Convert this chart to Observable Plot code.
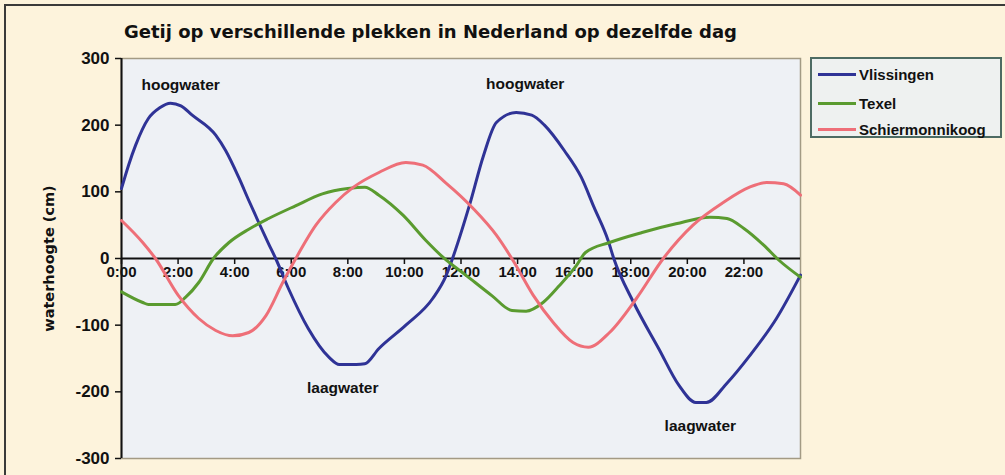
<!DOCTYPE html>
<html>
<head>
<meta charset="utf-8">
<script src="https://cdn.jsdelivr.net/npm/d3@7"></script>
<script src="https://cdn.jsdelivr.net/npm/@observablehq/plot@0.6"></script>
<style>
  html, body { margin: 0; padding: 0; background: #fdf3dc; }
  #wrap { position: relative; width: 1005px; height: 475px; background: #fdf3dc; overflow: hidden;
          font-family: "Liberation Sans", Arial, sans-serif; }
  #border { position: absolute; left: 4px; top: 4px; width: 1010px; height: 480px;
            border-top: 2px solid #3a3a3a; border-left: 2px solid #3a3a3a; }
  #title { position: absolute; left: 124px; top: 23px; font-family: "DejaVu Sans", sans-serif;
           font-size: 18px; font-weight: bold; color: #111; white-space: nowrap; line-height: 18px; }
  #chart { position: absolute; left: 0; top: 0; }
  #legend { position: absolute; left: 810px; top: 57px; width: 188px; height: 77px;
            border: 2px solid #4d6b63; background: #eef1f0; }
  .row { position: absolute; left: 6px; height: 20px; display: flex; align-items: center;
         font-size: 15px; font-weight: bold; color: #111; white-space: nowrap; }
  .sw { width: 38px; height: 3px; margin-right: 3px; }
</style>
</head>
<body>
<div id="wrap">
  <div id="border"></div>
  <div id="chart"></div>
  <div id="title"></div>
  <div id="legend"></div>
</div>
<script>
// ---- data ----
const titleText = "Getij op verschillende plekken in Nederland op dezelfde dag";
const yLabel = "waterhoogte (cm)";
const seriesNames = ["Vlissingen", "Texel", "Schiermonnikoog"];
const seriesColors = ["#2f3396", "#5a9b2f", "#ee6f78"];

const vlissingenHours = [0, 0.25, 0.5, 0.95, 1.35, 1.73, 2.1, 2.5, 3.33, 3.68, 4.14, 4.5, 4.85, 5.2, 5.45, 5.9, 6.6, 7.33, 7.7, 8.3, 8.6, 9.1, 10.05, 11.0, 11.47, 11.7, 12.3, 12.8, 13.25, 13.95, 14.5, 14.95, 15.65, 16.25, 16.7, 17.2, 17.4, 18.1, 19.0, 19.7, 20.3, 20.67, 21.4, 22.2, 23.15, 24];
const vlissingenCm    = [105, 140, 170, 210, 226, 233, 229, 215, 185, 162, 122, 87, 54, 22, 0, -45, -105, -148, -159, -159, -158, -135, -100, -60, -26, 0, 80, 155, 204, 219, 215, 200, 162, 122, 77, 27, 0, -66, -136, -190, -216, -216, -187, -146, -90, -25];

const texelHours = [0, 0.75, 0.95, 1.9, 2.27, 2.73, 3.25, 3.8, 4.5, 5.2, 6.15, 7.1, 8.0, 8.6, 9.1, 9.95, 10.76, 11.36, 12.2, 13.1, 13.8, 14.3, 14.9, 15.47, 16.07, 16.4, 17.25, 18.4, 19.6, 20.8, 21.4, 22.0, 22.7, 23.25, 24];
const texelCm    = [-50, -66, -69, -69, -58, -36, 0, 24, 44, 60, 79, 97, 105, 107, 95, 65, 27, 2, -26, -56, -78, -79, -66, -41, -11, 9, 24, 39, 52, 62, 60, 45, 20, -3, -28];

const schierHours = [0, 0.75, 1.2, 2.0, 2.73, 3.33, 3.93, 4.5, 5.1, 5.7, 6.16, 6.87, 7.57, 8.2, 9.1, 10.05, 10.65, 11.47, 12.43, 13.25, 13.84, 14.55, 15.26, 15.96, 16.5, 17.25, 18.2, 19.15, 20.2, 21.27, 22.2, 22.8, 23.4, 24];
const schierCm    = [57, 24, 0, -55, -90, -108, -116, -111, -86, -36, 0, 50, 84, 107, 129, 144, 140, 113, 75, 35, -3, -55, -96, -126, -133, -111, -60, 0, 50, 84, 107, 114, 112, 95];

const yTicks = [-300, -200, -100, 0, 100, 200, 300];
const xTicks = [0, 2, 4, 6, 8, 10, 12, 14, 16, 18, 20, 22];

const annText  = ["hoogwater", "hoogwater", "laagwater", "laagwater"];
const annHour  = [2.09, 14.27, 7.82, 20.46];
const annValue = [260, 262, -195, -251];

// ---- build tables ----
const toRows = (hours, vals, name) => hours.map((h, i) => ({hour: h, cm: vals[i], name}));
const rows = [
  ...toRows(vlissingenHours, vlissingenCm, seriesNames[0]),
  ...toRows(texelHours, texelCm, seriesNames[1]),
  ...toRows(schierHours, schierCm, seriesNames[2])
];
const annotations = annText.map((t, i) => ({text: t, hour: annHour[i], cm: annValue[i]}));

document.getElementById("title").textContent = titleText;

const chart = Plot.plot({
  width: 1005,
  height: 475,
  marginLeft: 121,
  marginRight: 205,
  marginTop: 58,
  marginBottom: 17,
  style: {background: "transparent", fontFamily: "'Liberation Sans', Arial, sans-serif", color: "#111"},
  x: {domain: [0, 24], axis: null},
  y: {domain: [-300, 300], axis: null},
  color: {domain: seriesNames, range: seriesColors},
  marks: [
    Plot.frame({fill: "#eef1f5", stroke: "#a39a84", strokeWidth: 1.5}),
    Plot.axisY({ticks: yTicks, tickSize: 6, tickPadding: 6, tickFormat: d => String(d),
                fontSize: 17, fontWeight: "bold", label: null, stroke: "#111", strokeWidth: 1.5}),
    Plot.text([yLabel], {frameAnchor: "left", textAnchor: "middle", rotate: -90, dx: -72,
                         fontFamily: "'DejaVu Sans', sans-serif", fontSize: 14.5, fontWeight: "bold", fill: "#111"}),
    Plot.ruleX([0], {stroke: "#111", strokeWidth: 2}),
    Plot.ruleY([0], {stroke: "#111", strokeWidth: 2}),
    Plot.axisX({ticks: xTicks, tickSize: 6, tickPadding: 2, dy: -200, tickFormat: h => h + ":00",
                fontSize: 15, fontWeight: "bold", label: null, stroke: "#111", strokeWidth: 1.5}),
    Plot.line(rows, {x: "hour", y: "cm", z: "name", stroke: "name", strokeWidth: 3, curve: "monotone-x"}),
    Plot.text(annotations, {x: "hour", y: "cm", text: "text", fontSize: 15.5, fontWeight: "bold", fill: "#111"})
  ]
});
document.getElementById("chart").appendChild(chart);

// legend
const legend = document.getElementById("legend");
const rowTops = [5, 34, 60];
seriesNames.forEach((n, i) => {
  const r = document.createElement("div");
  r.className = "row";
  r.style.top = rowTops[i] + "px";
  const sw = document.createElement("div");
  sw.className = "sw";
  sw.style.background = seriesColors[i];
  const t = document.createElement("span");
  t.textContent = n;
  r.appendChild(sw);
  r.appendChild(t);
  legend.appendChild(r);
});
</script>
</body>
</html>
